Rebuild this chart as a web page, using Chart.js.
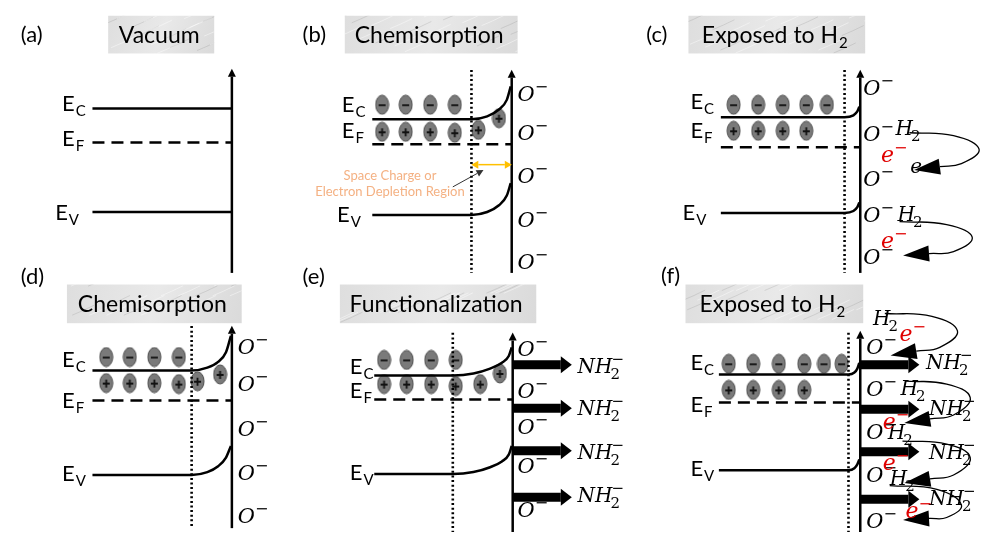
<!DOCTYPE html>
<html>
<head>
<meta charset="utf-8">
<script src="https://cdn.jsdelivr.net/npm/chart.js@4.4.1/dist/chart.umd.min.js"></script>
<style>
  html, body { margin: 0; padding: 0; background: #fff; }
  canvas { display: block; }
</style>
</head>
<body>
<canvas id="c" width="992" height="541"></canvas>
<script>
// all values are in picture units (x to the right, y downwards)

const panelTags = ['(a)', '(b)', '(c)', '(d)', '(e)', '(f)'];
const panelTagPos = [[12, 34], [299, 34], [649, 34], [12, 284], [299, 284], [664, 283]];

const titleText = ['Vacuum', 'Chemisorption', 'Exposed to H', 'Chemisorption', 'Functionalization', 'Exposed to H'];
const titleSub = ['', '', '2', '', '', '2'];
const titleBox = [[101, 7, 209, 46], [342, 7, 518, 46], [692, 7, 872, 46],
                  [59, 285, 237, 325], [337, 285, 537, 325], [689, 285, 870, 325]];

// conduction band, Fermi level, valence band
const ecBands = [
  [[85, 103], [227, 103]],
  [[370, 114], [471, 114], [487, 111], [499, 104], [507, 94], [511, 80]],
  [[725, 112], [851, 112], [860, 110], [864, 106], [866, 101]],
  [[85, 374], [186, 374], [202, 371], [213, 365], [221, 355], [226, 338]],
  [[372, 379], [452, 379], [473, 377], [490, 372], [502, 366], [509, 359], [512, 350]],
  [[723, 378], [855, 378], [861, 376], [864, 372], [866, 366]]
];
const efLevels = [[85, 227, 138], [370, 512, 140], [725, 867, 143], [85, 227, 405], [372, 513, 404], [723, 867, 407]];
const evBands = [
  [[85, 210], [227, 210]],
  [[370, 213], [471, 213], [487, 210], [499, 203], [507, 193], [511, 180]],
  [[725, 211], [851, 211], [860, 209], [864, 205], [866, 200]],
  [[85, 482], [186, 482], [202, 479], [213, 473], [221, 464], [226, 452]],
  [[372, 481], [452, 481], [473, 479], [490, 474], [502, 468], [509, 461], [512, 452]],
  [[723, 477], [855, 477], [861, 475], [864, 471], [866, 466]]
];
const ecLabelPos = [[54, 106], [339, 107], [694, 103], [54, 370], [347, 378], [694, 373]];
const efLabelPos = [[54, 142], [339, 133], [694, 133], [54, 413], [347, 402], [694, 417]];
const evLabelPos = [[47, 218], [334, 220], [686, 218], [54, 488], [347, 487], [694, 483]];

// surface axis: x, bottom, base of arrow head
const surfaceAxes = [[227, 273, 70], [512, 273, 71], [867, 273, 71], [227, 537, 336], [513, 541, 343], [867, 541, 341]];
// depletion edge: x, top, bottom
const depletionEdges = [[471, 63, 273], [851, 63, 273], [186, 328, 537], [452, 335, 541], [855, 335, 541]];

// electrons (-) and holes (+)
const electrons = [
  [380, 99], [404, 99], [429, 99], [454, 99],
  [738, 99], [763, 99], [788, 99], [812, 99], [833, 99],
  [99, 360], [123, 360], [148, 360], [173, 360],
  [382, 363], [405, 363], [430, 363], [455, 363],
  [733, 367], [758, 367], [784, 367], [810, 367], [830, 367], [848, 367]
];
const holes = [
  [380, 127], [404, 127], [429, 127], [454, 128], [478, 125], [499, 113],
  [738, 126], [763, 126], [788, 126], [812, 126],
  [99, 387], [123, 387], [148, 387], [173, 388], [192, 385], [215, 378],
  [382, 388], [405, 388], [430, 388], [455, 390], [480, 388], [500, 377],
  [733, 394], [758, 394], [784, 394], [810, 394]
];

// adsorbed O- (left x, baseline)
const oxygenIons = [
  [518, 95], [518, 135], [518, 180], [518, 225], [518, 269],
  [870, 89], [870, 137], [870, 183], [870, 220], [870, 264],
  [233, 357], [233, 395], [233, 442], [233, 487], [233, 532],
  [518, 359], [518, 402], [518, 440], [518, 480], [518, 525],
  [873, 357], [873, 400], [873, 445], [873, 489], [873, 537]
];
// NH2- functional groups: arrow from x0 to head base x1 at y, label at (lx, ly)
const nh2Arrows = [[513, 562, 368], [513, 562, 413], [513, 562, 457], [513, 562, 505],
                   [867, 916, 368], [867, 916, 414], [867, 916, 458], [867, 916, 507]];
const nh2Labels = [[579, 377], [579, 420], [579, 465], [579, 510],
                   [934, 372], [937, 420], [937, 465], [937, 513]];

const h2Labels = [[903, 130], [905, 219], [880, 327], [908, 399], [895, 445], [897, 492]];
const redElectrons = [[888, 158], [888, 247], [907, 343], [890, 434], [890, 477], [913, 527]];
const blackElectrons = [[918, 170]];
// H2 -> e- transfer loops (last point is the base of the head)
const h2Loops = [
  [[917, 128], [962, 131], [988, 145], [970, 160], [948, 163]],
  [[907, 220], [955, 223], [981, 236], [962, 251], [937, 253]],
  [[892, 315], [940, 318], [966, 333], [948, 350], [924, 354]],
  [[913, 385], [955, 388], [979, 402], [962, 420], [938, 424]],
  [[910, 447], [955, 450], [979, 464], [962, 482], [938, 486]],
  [[897, 493], [945, 497], [970, 513], [955, 526], [937, 527]]
];

const depletionWidth = [[478, 161], [505, 161]];
const depletionPointer = [[452, 184], [477, 170]];
const depletionNote = ['Space Charge or', 'Electron Depletion Region'];
const depletionNotePos = [[388, 177], [388, 193]];

// ---------------------------------------------------------------

const SANS = 'Lato, "Open Sans", sans-serif';
const MATH = '"DejaVu Serif", serif';

function carrier(sign) {
  const c = document.createElement('canvas');
  c.width = 15; c.height = 21;
  const g = c.getContext('2d');
  g.beginPath();
  g.ellipse(7.5, 10.5, 6.5, 9.5, 0, 0, Math.PI * 2);
  g.fillStyle = '#7a7a7a';
  g.fill();
  g.lineWidth = 1;
  g.strokeStyle = '#4d4d4d';
  g.stroke();
  g.strokeStyle = '#111';
  g.lineWidth = 1.8;
  g.beginPath();
  g.moveTo(4, 11); g.lineTo(11, 11);
  if (sign === '+') { g.moveTo(7.5, 7); g.lineTo(7.5, 15); }
  g.stroke();
  return c;
}

const xy = pts => pts.map(([x, y]) => ({x, y}));
const datasets = [];
function addLine(pts, extra) {
  datasets.push(Object.assign({
    data: xy(pts), showLine: true, pointRadius: 0, borderColor: '#000',
    borderWidth: 2.5, tension: 0, fill: false
  }, extra || {}));
}

ecBands.forEach(b => addLine(b, {cubicInterpolationMode: 'monotone'}));
evBands.forEach(b => addLine(b, {cubicInterpolationMode: 'monotone'}));
efLevels.forEach(([x0, x1, y]) => addLine([[x0, y], [x1, y]], {borderDash: [12, 7]}));
depletionEdges.forEach(([x, y0, y1]) => addLine([[x, y0], [x, y1]], {borderDash: [2, 2.6], borderWidth: 2.6}));
surfaceAxes.forEach(([x, y0, y1]) => addLine([[x, y0], [x, y1]], {head: {len: 8, w: 8}}));
nh2Arrows.forEach(([x0, x1, y]) => addLine([[x0, y], [x1, y]], {borderWidth: 9, head: {len: 11, w: 17}}));
h2Loops.forEach(p => addLine(p, {borderWidth: 1.3, tension: 0.45, head: {len: 26, w: 16}}));
addLine(depletionWidth, {borderColor: '#FFC000', borderWidth: 1.5, head: {len: 7, w: 8, both: true, color: '#FFC000'}});
addLine(depletionPointer, {borderColor: '#333', borderWidth: 1, head: {len: 7, w: 7}});

datasets.push({data: xy(electrons), pointStyle: carrier('-'), pointRadius: 8});
datasets.push({data: xy(holes), pointStyle: carrier('+'), pointRadius: 8});

function rich(ctx, x, y, o) {
  ctx.textAlign = 'left';
  ctx.textBaseline = 'alphabetic';
  ctx.fillStyle = o.color || '#000';
  ctx.font = o.font;
  ctx.fillText(o.t, x, y);
  const w = ctx.measureText(o.t).width;
  ctx.font = o.small;
  if (o.sub) ctx.fillText(o.sub, x + w + (o.subDx || 0), y + o.subDy);
  if (o.sup) ctx.fillText(o.sup, x + w + (o.supDx || 0), y + o.supDy);
}

const drawing = {
  id: 'drawing',
  beforeDatasetsDraw(chart) {
    const {ctx, scales: {x: sx, y: sy}} = chart;
    ctx.save();
    titleBox.forEach(([x0, y0, x1, y1], i) => {
      const l = sx.getPixelForValue(x0), t = sy.getPixelForValue(y0);
      const r = sx.getPixelForValue(x1), b = sy.getPixelForValue(y1);
      const grd = ctx.createLinearGradient(l, t, r, b);
      grd.addColorStop(0, '#dedede');
      grd.addColorStop(0.5, '#e9e9e9');
      grd.addColorStop(1, '#dadada');
      ctx.fillStyle = grd;
      ctx.fillRect(l, t, r - l, b - t);
      // marble veins
      ctx.save();
      ctx.beginPath(); ctx.rect(l, t, r - l, b - t); ctx.clip();
      ctx.lineWidth = 0.8;
      for (let k = 0; k < 22; k++) {
        const vx = l + ((k * 53 + i * 17) % (r - l + 20)) - 10;
        const vy = t + ((k * 29 + i * 7) % (b - t));
        ctx.strokeStyle = k % 3 ? 'rgba(255,255,255,0.55)' : 'rgba(140,140,140,0.3)';
        ctx.beginPath();
        ctx.moveTo(vx, vy);
        ctx.quadraticCurveTo(vx + 10, vy - 4, vx + 22, vy - 10);
        ctx.stroke();
      }
      ctx.restore();
      // title text
      ctx.font = '23px ' + SANS;
      const w0 = ctx.measureText(titleText[i]).width;
      ctx.font = '15px ' + SANS;
      const w1 = titleSub[i] ? ctx.measureText(titleSub[i]).width + 1 : 0;
      const cx = (l + r) / 2 - 2, cy = (t + b) / 2;
      rich(ctx, cx - (w0 + w1) / 2, cy + 8, {
        t: titleText[i], font: '23px ' + SANS, small: '15px ' + SANS,
        sub: titleSub[i], subDx: 1, subDy: 5
      });
    });
    ctx.restore();
  },
  afterDatasetsDraw(chart) {
    const {ctx, scales: {x: sx, y: sy}} = chart;
    const P = ([x, y]) => [sx.getPixelForValue(x), sy.getPixelForValue(y)];
    ctx.save();
    // arrow heads
    chart.data.datasets.forEach((ds, i) => {
      if (!ds.head) return;
      const pts = chart.getDatasetMeta(i).data;
      const n = pts.length;
      const ends = ds.head.both ? [[n - 1, n - 2], [0, 1]] : [[n - 1, n - 2]];
      ctx.fillStyle = ds.head.color || ds.borderColor;
      ends.forEach(([a, b]) => {
        const A = pts[a], B = pts[b];
        const dx = A.x - B.x, dy = A.y - B.y, L = Math.hypot(dx, dy);
        const ux = dx / L, uy = dy / L, h = ds.head.w / 2;
        ctx.beginPath();
        ctx.moveTo(A.x + ux * ds.head.len, A.y + uy * ds.head.len);
        ctx.lineTo(A.x - uy * h, A.y + ux * h);
        ctx.lineTo(A.x + uy * h, A.y - ux * h);
        ctx.closePath();
        ctx.fill();
      });
    });

    panelTags.forEach((t, i) => {
      const [x, y] = P(panelTagPos[i]);
      rich(ctx, x, y, {t, font: '22px ' + SANS});
    });
    const bandLabel = (pos, sub) => pos.forEach(p => {
      const [x, y] = P(p);
      rich(ctx, x, y, {t: 'E', font: '22px ' + SANS, small: '15px ' + SANS, sub, subDx: 1, subDy: 5});
    });
    bandLabel(ecLabelPos, 'C');
    bandLabel(efLabelPos, 'F');
    bandLabel(evLabelPos, 'V');

    oxygenIons.forEach(p => {
      const [x, y] = P(p);
      rich(ctx, x, y, {t: 'O', font: 'italic 21px ' + MATH, small: '16px ' + MATH, sup: '\u2212', supDx: 0, supDy: -9});
    });
    nh2Labels.forEach(p => {
      const [x, y] = P(p);
      rich(ctx, x, y, {t: 'NH', font: 'italic 20px ' + MATH, small: '15px ' + MATH,
        sub: '2', subDx: -2, subDy: 6, sup: '\u2212', supDx: -1, supDy: -9});
    });
    h2Labels.forEach(p => {
      const [x, y] = P(p);
      rich(ctx, x, y, {t: 'H', font: 'italic 20px ' + MATH, small: '15px ' + MATH, sub: '2', subDx: -2, subDy: 6});
    });
    redElectrons.forEach(p => {
      const [x, y] = P(p);
      rich(ctx, x, y, {t: 'e', font: 'italic 22px ' + MATH, small: '16px ' + MATH,
        sup: '\u2212', supDx: 0, supDy: -9, color: '#e00000'});
    });
    blackElectrons.forEach(p => {
      const [x, y] = P(p);
      rich(ctx, x, y, {t: 'e', font: 'italic 20px ' + MATH});
    });

    ctx.font = '13px ' + SANS;
    ctx.fillStyle = '#F4B183';
    ctx.textAlign = 'center';
    depletionNote.forEach((t, i) => {
      const [x, y] = P(depletionNotePos[i]);
      ctx.fillText(t, x, y);
    });
    ctx.restore();
  }
};

new Chart(document.getElementById('c'), {
  type: 'scatter',
  data: {datasets},
  options: {
    responsive: false,
    animation: false,
    devicePixelRatio: 1,
    events: [],
    layout: {padding: 0},
    plugins: {legend: {display: false}, tooltip: {enabled: false}},
    scales: {
      x: {type: 'linear', min: 0, max: 992, display: false},
      y: {type: 'linear', min: 0, max: 541, reverse: true, display: false}
    }
  },
  plugins: [drawing]
});
</script>
</body>
</html>
